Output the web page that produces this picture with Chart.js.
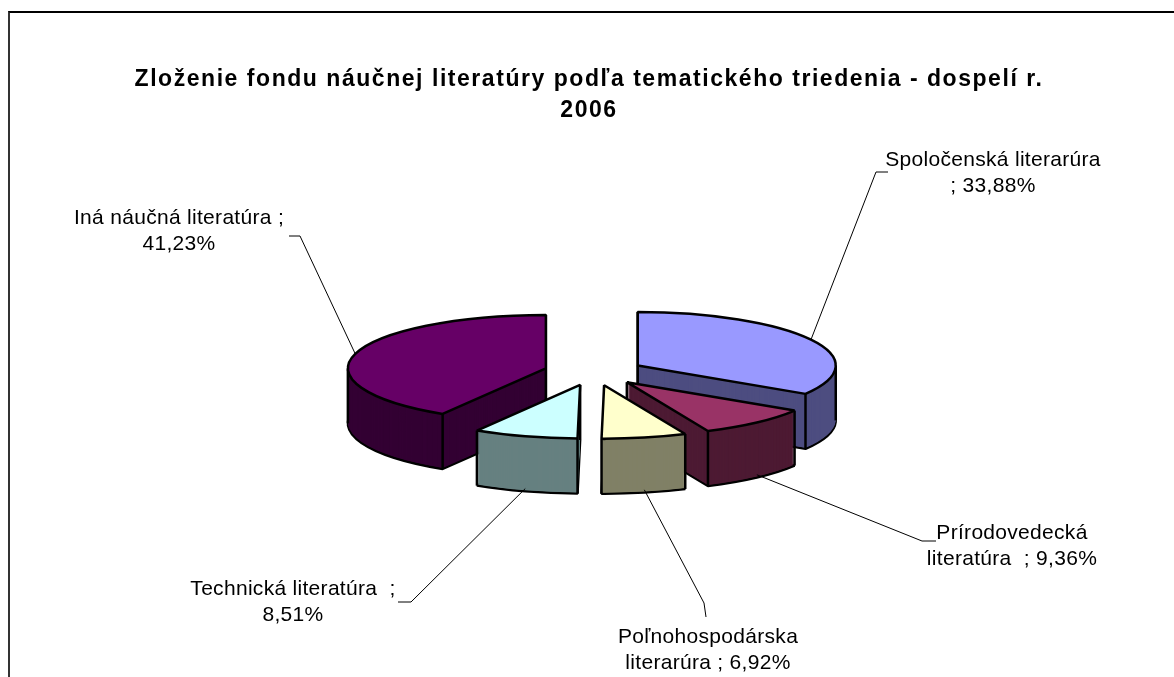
<!DOCTYPE html>
<html>
<head>
<meta charset="utf-8">
<script src="https://cdn.jsdelivr.net/npm/chart.js@4.4.1/dist/chart.umd.min.js"></script>
<style>
  html, body { margin: 0; padding: 0; background: #fff; }
  #wrap { position: relative; width: 1174px; height: 677px; overflow: hidden; }
  #frame { position: absolute; left: 8px; top: 11px; width: 1200px; height: 700px;
           border-left: 2px solid #333; border-top: 2px solid #000; }
  canvas { position: absolute; left: 0; top: 0; }
</style>
</head>
<body>
<div id="wrap">
  <div id="frame"></div>
  <canvas id="pie" width="1174" height="677"></canvas>
</div>
<script>
// data (clockwise from 12 o'clock)
const categories = ['Spoločenská literarúra', 'Prírodovedecká literatúra ', 'Poľnohospodárska literarúra', 'Technická literatúra ', 'Iná náučná literatúra'];
const shares = [33.88, 9.36, 6.92, 8.51, 41.23];
const titleLines = ['Zloženie fondu náučnej literatúry podľa tematického triedenia - dospelí r.', '2006'];

// colours: top face and darker side
const topColors = ['#9999FF', '#993366', '#FFFFCC', '#CCFFFF', '#660066'];
const sideColors = ['#4D4D80', '#4D1A33', '#808066', '#668080', '#330033'];

// 3D look
const TILT = 0.27;     // vertical squash of the disc
const DEPTH = 55;      // height of the side wall in px
const EXPLODE = 50;    // slice explosion in px
const BW = 2.5;

// where each label sits, where it wraps and its leader stub
const labelLayout = [
  { x: 993, y: 160, brk: 'literarúra', stub: [888, 172, 876, 172] },
  { x: 1012, y: 533, brk: 'Prírodovedecká', stub: [936, 541, 922, 541] },
  { x: 708, y: 637, brk: 'Poľnohospodárska', stub: [706, 617, 704, 603] },
  { x: 293, y: 589, brk: ';', stub: [398, 602, 411, 602] },
  { x: 179, y: 218, brk: ';', stub: [289, 236, 300, 236] }
];

const fmt = v => v.toFixed(2).replace('.', ',') + '%';

function pieSpace(ctx, arc, dy, ox, oy, fn) {
  ctx.save();
  ctx.translate(arc.x, arc.y + dy);
  ctx.scale(1, TILT);
  ctx.translate(ox - arc.x, oy - arc.y);
  fn();
  ctx.restore();
}

function screenPoint(arc, ox, oy, r, a) {
  return [arc.x + ox + r * Math.cos(a), arc.y + TILT * (oy + r * Math.sin(a))];
}

function drawSlice(chart, arc, i) {
  const ctx = chart.ctx;
  const ratio = chart.currentDevicePixelRatio;
  const base = arc.options;
  const mid = (arc.startAngle + arc.endAngle) / 2;
  const ox = Math.cos(mid) * EXPLODE;
  const oy = Math.sin(mid) * EXPLODE;

  // keep the outline even though the disc is squashed
  const rawStroke = CanvasRenderingContext2D.prototype.stroke;
  ctx.stroke = function () {
    this.save();
    this.setTransform(ratio, 0, 0, ratio, 0, 0);
    rawStroke.call(this);
    this.restore();
  };

  // side wall, bottom layer first
  for (let d = DEPTH; d >= 1; d--) {
    arc.options = Object.assign({}, base, {
      backgroundColor: sideColors[i],
      borderColor: '#000',
      borderWidth: d === DEPTH ? BW : 0
    });
    pieSpace(ctx, arc, d, ox, oy, () => arc.draw(ctx));
  }

  // vertical edges of the wall
  const R = arc.outerRadius;
  const edges = [[arc.x + ox, arc.y + TILT * oy],
    screenPoint(arc, ox, oy, R, arc.startAngle),
    screenPoint(arc, ox, oy, R, arc.endAngle)];
  [0, Math.PI, 2 * Math.PI].forEach(a => {
    if (a > arc.startAngle && a < arc.endAngle) edges.push(screenPoint(arc, ox, oy, R, a));
  });
  ctx.save();
  ctx.strokeStyle = '#000';
  ctx.lineWidth = BW;
  edges.forEach(([x, y]) => {
    ctx.beginPath();
    ctx.moveTo(x, y);
    ctx.lineTo(x, y + DEPTH);
    ctx.stroke();
  });
  ctx.restore();

  // top face
  arc.options = Object.assign({}, base, {
    backgroundColor: topColors[i],
    borderColor: '#000',
    borderWidth: BW
  });
  pieSpace(ctx, arc, 0, ox, oy, () => arc.draw(ctx));

  arc.options = base;
  delete ctx.stroke;
}

const pie3d = {
  id: 'pie3d',
  beforeDatasetsDraw(chart) {
    const arcs = chart.getDatasetMeta(0).data;
    const front = a => Math.sin((a.startAngle + a.endAngle) / 2);
    const order = arcs.map((a, i) => i).sort((i, j) => front(arcs[i]) - front(arcs[j]));
    order.forEach(i => drawSlice(chart, arcs[i], i));
    return false;
  },
  afterDraw(chart) {
    const ctx = chart.ctx;
    const arcs = chart.getDatasetMeta(0).data;

    // title
    ctx.save();
    ctx.fillStyle = '#000';
    ctx.textAlign = 'center';
    ctx.textBaseline = 'middle';
    ctx.font = 'bold 23px "Liberation Sans", Arial, sans-serif';
    const w = ctx.measureText(titleLines[0]).width;
    if ('letterSpacing' in ctx) ctx.letterSpacing = ((909 - w) / titleLines[0].length).toFixed(2) + 'px';
    ctx.fillText(titleLines[0], 589, 80);
    ctx.fillText(titleLines[1], 589, 111);
    ctx.restore();

    // leader lines
    ctx.save();
    ctx.strokeStyle = '#000';
    ctx.lineWidth = 1;
    arcs.forEach((arc, i) => {
      const mid = (arc.startAngle + arc.endAngle) / 2;
      const ox = Math.cos(mid) * EXPLODE, oy = Math.sin(mid) * EXPLODE;
      const [ax, ay0] = screenPoint(arc, ox, oy, arc.outerRadius, mid);
      const ay = ay0 + (Math.sin(mid) > 0 ? DEPTH * 0.95 : 0);
      const s = labelLayout[i].stub;
      ctx.beginPath();
      ctx.moveTo(s[0], s[1]);
      ctx.lineTo(s[2], s[3]);
      ctx.lineTo(ax, ay);
      ctx.stroke();
    });
    ctx.restore();

    // data labels
    ctx.save();
    ctx.fillStyle = '#000';
    ctx.textAlign = 'center';
    ctx.textBaseline = 'middle';
    ctx.font = '21px "Liberation Sans", Arial, sans-serif';
    if ('letterSpacing' in ctx) ctx.letterSpacing = '0.3px';
    categories.forEach((cat, i) => {
      const text = cat + ' ; ' + fmt(shares[i]);
      const L = labelLayout[i];
      const k = text.indexOf(L.brk) + L.brk.length;
      ctx.fillText(text.slice(0, k).trim(), L.x, L.y);
      ctx.fillText(text.slice(k).trim(), L.x, L.y + 26);
    });
    ctx.restore();
  }
};

new Chart(document.getElementById('pie'), {
  type: 'pie',
  data: {
    labels: categories,
    datasets: [{
      data: shares,
      backgroundColor: topColors,
      borderColor: '#000',
      borderWidth: BW,
      radius: 198
    }]
  },
  options: {
    responsive: false,
    animation: false,
    events: [],
    layout: { padding: { left: 396, right: 382, top: 174, bottom: 107 } },
    plugins: {
      legend: { display: false },
      tooltip: { enabled: false }
    }
  },
  plugins: [pie3d]
});
</script>
</body>
</html>
